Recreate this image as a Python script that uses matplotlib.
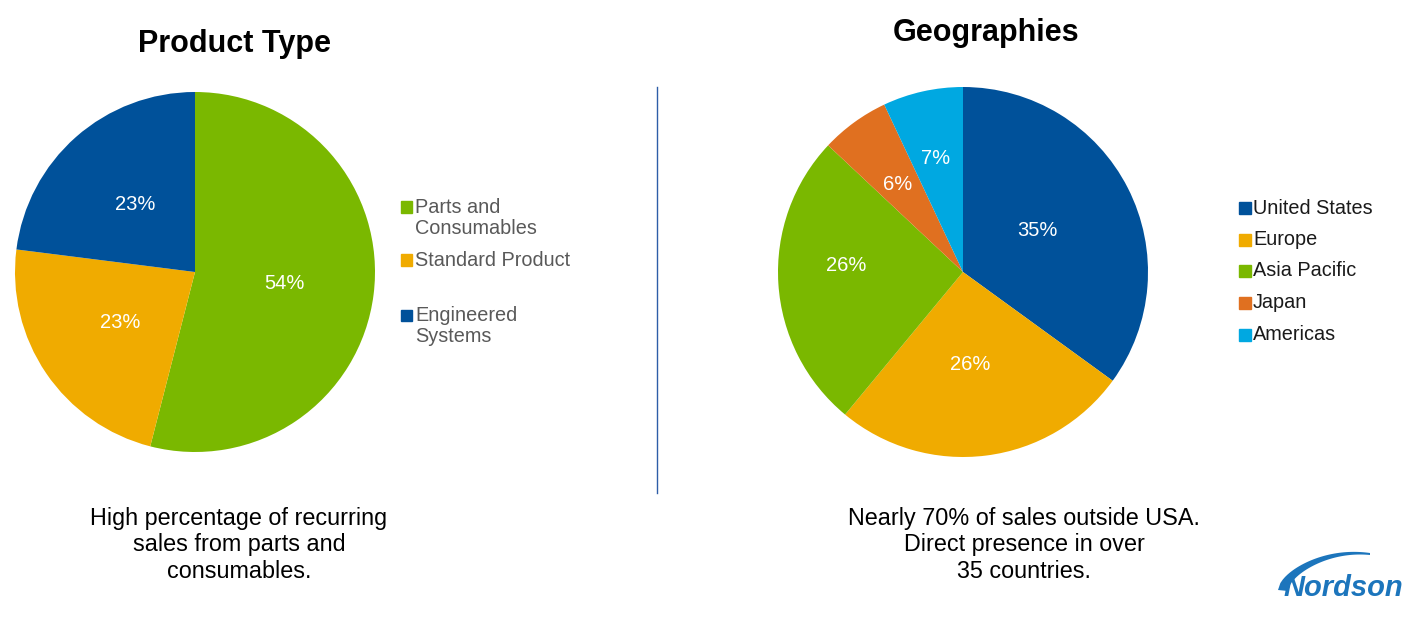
import numpy as np
import matplotlib.pyplot as plt
from matplotlib.patches import Rectangle, Polygon

plt.rcParams['font.family'] = ['Liberation Sans', 'DejaVu Sans']

# data
product_labels = ['Parts and\nConsumables', 'Standard Product', 'Engineered\nSystems']
product_values = [54, 23, 23]
product_colors = ['#7AB800', '#F0AB00', '#00519A']

geo_labels = ['United States', 'Europe', 'Asia Pacific', 'Japan', 'Americas']
geo_values = [35, 26, 26, 6, 7]
geo_colors = ['#00519A', '#F0AB00', '#7AB800', '#E07020', '#00A8E1']

W, H = 1417, 622
fig = plt.figure(figsize=(W / 100, H / 100), dpi=100)


def fx(x):
    return x / W


def fy(y):
    return 1 - y / H


def px_axes(cx, cy, r):
    # axes box from pixel centre/radius (top-left origin)
    return fig.add_axes([(cx - r) / W, (H - cy - r) / H, 2 * r / W, 2 * r / H])


def draw_pie(ax, values, colors, dists, shifts):
    wedges, _ = ax.pie(values, colors=colors, startangle=90, counterclock=False,
                       wedgeprops=dict(linewidth=0))
    for w, v, d, s in zip(wedges, values, dists, shifts):
        ang = np.deg2rad((w.theta1 + w.theta2) / 2 + s)
        ax.text(d * np.cos(ang), d * np.sin(ang), f'{v}%', color='white',
                ha='center', va='center', fontsize=14.5)
    ax.set_xlim(-1, 1)
    ax.set_ylim(-1, 1)
    ax.set_aspect('equal')
    ax.axis('off')


ax1 = px_axes(195, 272, 180)
draw_pie(ax1, product_values, product_colors, [0.5, 0.5, 0.5], [0, 0, 0])
ax2 = px_axes(963, 272, 185)
draw_pie(ax2, geo_values, geo_colors, [0.46, 0.5, 0.63, 0.59, 0.63], [2, -3, -7, 1, 1])

# titles
fig.text(fx(235), fy(44), 'Product Type', ha='center', va='center', fontsize=22, fontweight='bold')
fig.text(fx(986), fy(33), 'Geographies', ha='center', va='center', fontsize=22, fontweight='bold')

# divider
fig.add_artist(plt.Line2D([fx(657), fx(657)], [fy(87), fy(493)], color='#2E5EA8', lw=1))


# legends
def draw_legend(labels, colors, xs, xt, ys, sq, color):
    for lab, col, y in zip(labels, colors, ys):
        first_y = y - 11 * lab.count('\n')
        fig.add_artist(Rectangle((fx(xs), fy(first_y + sq / 2)), sq / W, sq / H,
                                 color=col, transform=fig.transFigure))
        fig.text(fx(xt), fy(y), lab, ha='left', va='center', fontsize=14.3,
                 color=color, linespacing=1.1)


draw_legend(product_labels, product_colors, 401, 415, [218, 260, 326], 11, '#595959')
draw_legend(geo_labels, geo_colors, 1239, 1253, [208, 240, 271, 303, 335], 12, '#1A1A1A')

# captions
fig.text(fx(239), fy(545), 'High percentage of recurring\nsales from parts and\nconsumables.',
         ha='center', va='center', fontsize=16.8, linespacing=1.18)
fig.text(fx(1024), fy(545), 'Nearly 70% of sales outside USA.\nDirect presence in over\n35 countries.',
         ha='center', va='center', fontsize=16.8, linespacing=1.18)

# logo
fig.text(fx(1343), fy(588), 'Nordson', ha='center', va='center', fontsize=21,
         fontweight='bold', style='italic', color='#1C75BC')
logo_ax = fig.add_axes([fx(1270), fy(600), 110 / W, 50 / H])
logo_ax.set_xlim(1270, 1380)
logo_ax.set_ylim(600, 550)
logo_ax.axis('off')
t = np.linspace(0, 1, 40)
outer = np.column_stack([1278 + 92 * t, 590 - 50 * np.sin(t * np.pi / 2) ** 0.6 + 13 * t])
inner = np.column_stack([1288 + 82 * t, 591 - 44 * np.sin(t * np.pi / 2) ** 0.6 + 8 * t])
logo_ax.add_patch(Polygon(np.vstack([outer, inner[::-1]]), closed=True, color='#1C75BC', lw=0))

fig.savefig('out.png', dpi=100, facecolor='white')
